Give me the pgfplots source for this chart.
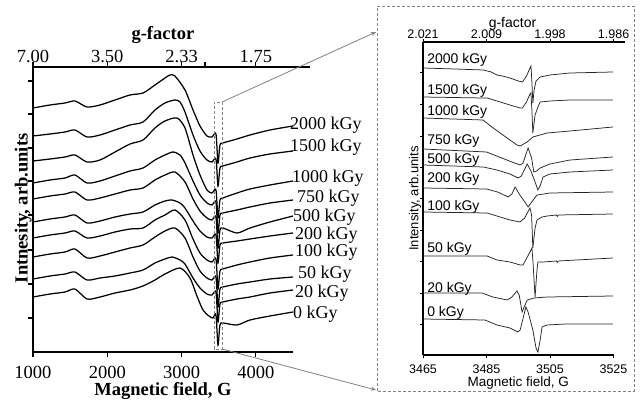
\documentclass[border=0pt]{standalone}
\usepackage{pgfplots}
\pgfplotsset{compat=1.18}
\usepackage{fontspec}
\setmainfont{Liberation Serif}
\newfontfamily\arial{Liberation Sans}
\usetikzlibrary{arrows.meta}

\pgfplotsset{
  /pgf/number format/assume math mode=true,
  spec/.style={black, line width=1.25pt, smooth, tension=0.45},
  zoomspec/.style={black!85, line width=0.75pt},
}
\tikzset{
  lab/.style={anchor=base west, inner sep=0pt, font=\fontsize{18}{20}\selectfont},
  zlab/.style={anchor=base west, inner sep=0pt, font=\arial\fontsize{14}{16}\selectfont},
  frame/.style={black!50, line width=0.8pt, dash pattern=on 3pt off 2pt},
}

\begin{document}
\begin{tikzpicture}
\path[use as bounding box] (0pt,0pt) rectangle (640pt,399pt);

% ---------------- left panel: full field sweep ----------------
\begin{axis}[
  scale only axis, width=260pt, height=285pt,
  at={(33pt,47pt)}, anchor=south west,
  xmin=1000, xmax=4500, ymin=48, ymax=333,
  axis x line*=bottom, axis y line*=left,
  xtick={1000,2000,3000,4000}, xticklabels={1000,2000,3000,4000},
  ytick={82,116,150,185,219,252,286,319}, yticklabels={},
  tick align=outside, major tick length=4.5pt,
  every tick/.style={black, line width=1.1pt},
  axis line style={line width=1.4pt},
  tick label style={font=\fontsize{18.5}{20}\selectfont},
  xticklabel style={yshift=-6pt},
  xlabel={\textbf{Magnetic field, G}},
  xlabel style={font=\fontsize{18.5}{20}\selectfont, at={(axis description cs:0.5,0)}, anchor=center, yshift=-39pt},
  ylabel={\textbf{Intnesity, arb.units}},
  ylabel style={font=\fontsize{18.5}{20}\selectfont, at={(axis description cs:-0.038,0.504)}, anchor=center},
  clip=false,
]
% 2000 kGy
\addplot[spec] table {
x y
1000 292
1229 295
1431 297
1565 299
1727 293
1902 295
2104 300
2306 305
2481 307
2642 315
2777 322
2844 325
2911 324
3046 310
3154 290
3248 274
3342 264
3409 263
3463 266
3490 237
3517 255
3557 257
3746 261
3921 265
4190 270
4500 274
};
% 1500 kGy
\addplot[spec] table {
x y
1000 264
1229 266
1431 268
1565 270
1727 263
1902 265
2104 270
2306 275
2481 278
2642 290
2777 297
2911 300
2979 298
3046 288
3154 265
3248 249
3342 240
3409 238
3463 241
3490 214
3517 232
3557 234
3746 238
3921 242
4190 246
4500 249
};
% 1000 kGy
\addplot[spec] table {
x y
1000 239
1229 241
1431 243
1565 245
1727 238
1902 240
2104 248
2306 256
2481 260
2642 272
2777 279
2938 282
3046 272
3154 245
3248 225
3342 210
3409 207
3463 210
3490 182
3517 200
3557 202
3746 207
3921 211
4190 215
4500 219
};
% 750 kGy
\addplot[spec] table {
x y
1000 217
1229 220
1431 222
1565 225
1727 217
1902 219
2104 224
2306 229
2481 232
2642 240
2777 245
2884 248
2979 245
3046 237
3154 219
3248 205
3342 197
3409 195
3463 198
3490 167
3517 185
3557 187
3746 190
3921 193
4190 197
4500 200
};
% 500 kGy
\addplot[spec] table {
x y
1000 201
1229 204
1431 206
1565 208
1727 200
1902 202
2104 206
2306 210
2481 212
2642 220
2777 225
2911 228
3046 218
3154 201
3248 189
3342 182
3409 180
3463 183
3490 152
3517 170
3557 172
3746 167
3921 172
4190 178
4500 184
};
% 200 kGy
\addplot[spec] table {
x y
1000 178
1229 181
1431 183
1565 185
1727 177
1902 179
2104 183
2306 186
2481 188
2642 195
2777 199
2871 200
2979 197
3046 192
3154 179
3248 169
3342 163
3409 162
3463 165
3490 137
3517 155
3557 157
3746 159
3921 161
4190 164
4500 167
};
% 100 kGy
\addplot[spec] table {
x y
1000 162
1229 165
1431 167
1565 169
1727 162
1902 164
2104 168
2306 171
2481 172
2642 180
2777 185
2911 190
3046 180
3154 161
3248 147
3342 140
3409 138
3463 141
3490 111
3517 129
3557 131
3746 135
3921 138
4190 142
4500 145
};
% 50 kGy
\addplot[spec] table {
x y
1000 143
1229 146
1431 148
1565 151
1727 142
1902 144
2104 148
2306 152
2481 155
2642 163
2777 169
2911 172
3046 162
3154 143
3248 129
3342 122
3409 120
3463 123
3490 93
3517 111
3557 113
3746 116
3921 118
4190 121
4500 123
};
% 20 kGy
\addplot[spec] table {
x y
1000 121
1229 124
1431 126
1565 128
1727 120
1902 122
2104 124
2306 127
2481 130
2642 137
2777 141
2871 143
2979 140
3046 136
3154 122
3248 112
3342 106
3409 105
3463 108
3490 78
3517 96
3557 98
3746 101
3921 103
4190 107
4500 110
};
% 0 kGy
\addplot[spec] table {
x y
1000 103
1229 106
1431 108
1565 111
1727 101
1902 103
2104 107
2306 110
2481 114
2642 120
2777 126
2979 132
3113 122
3207 104
3288 90
3369 84
3423 82
3463 85
3490 55
3517 75
3557 77
3746 75
3921 80
4190 84
4500 88
};
% dose labels at the curve ends
\node[lab] at (axis cs:4459,270) {2000 kGy};
\node[lab] at (axis cs:4459,248) {1500 kGy};
\node[lab] at (axis cs:4486,217) {1000 kGy};
\node[lab] at (axis cs:4553,197) {750 kGy};
\node[lab] at (axis cs:4500,178) {500 kGy};
\node[lab] at (axis cs:4527,160) {200 kGy};
\node[lab] at (axis cs:4527,143) {100 kGy};
\node[lab] at (axis cs:4567,122) {50 kGy};
\node[lab] at (axis cs:4527,103) {20 kGy};
\node[lab] at (axis cs:4500,82) {0 kGy};
% region shown enlarged on the right
\draw[frame] (axis cs:3436,51) rectangle (axis cs:3544,298);
\coordinate (zt) at (axis cs:3544,298);
\coordinate (zb) at (axis cs:3544,51);
\end{axis}

% g-factor scale for the left panel
\begin{axis}[
  scale only axis, width=277pt, height=285pt,
  at={(33pt,47pt)}, anchor=south west,
  xmin=1000, xmax=4728, ymin=0, ymax=1,
  axis x line*=top, axis y line=none,
  xticklabel pos=upper,
  xtick={1000,2000,3000,4000}, xticklabels={7.00,3.50,2.33,1.75},
  extra x ticks={3315}, extra x tick labels={},
  tick align=outside, major tick length=4.5pt,
  every tick/.style={black, line width=1.1pt},
  axis line style={line width=1.4pt},
  tick label style={font=\fontsize{18.5}{20}\selectfont},
  xticklabel style={yshift=-4pt},
  xlabel={\textbf{g-factor}},
  xlabel style={font=\fontsize{18.5}{20}\selectfont, at={(axis description cs:0.469,1)}, anchor=center, yshift=32pt},
]
\end{axis}

% ---------------- right panel: central line ----------------
\begin{axis}[
  scale only axis, width=190.5pt, height=313pt,
  at={(423pt,44pt)}, anchor=south west,
  xmin=3465, xmax=3525, ymin=45, ymax=358,
  axis x line*=bottom, axis y line*=left,
  xtick={3465,3485,3505,3525}, xticklabels={3465,3485,3505,3525},
  ytick={76,107,139,170,202,233,264,296,328}, yticklabels={},
  tick align=outside, major tick length=3pt,
  every tick/.style={black, line width=0.9pt},
  axis line style={line width=1.1pt},
  tick label style={font=\arial\fontsize{12.5}{14}\selectfont},
  xticklabel style={yshift=-3pt},
  xlabel={Magnetic field, G},
  xlabel style={font=\arial\fontsize{13.5}{15}\selectfont, at={(axis description cs:0.5,0)}, anchor=center, yshift=-28pt},
  ylabel={Intensity, arb.units},
  ylabel style={font=\arial\fontsize{13}{15}\selectfont, at={(axis description cs:-0.042,0.5)}, anchor=center},
  clip=false,
]
% 2000 kGy
\addplot[zoomspec] table {
x y
3465.0 332
3475.0 331
3484.0 330
3486.5 328
3488.3 325
3490.0 324
3492.4 322
3495.0 319
3496.3 318
3497.6 324
3498.7 332
3499.0 334
3499.3 318
3499.6 297
3500.0 310
3500.6 319
3501.9 323
3505.0 325
3511.3 327
3524.8 328
};
% 1500 kGy
\addplot[zoomspec] table {
x y
3465.0 303
3484.0 302
3485.2 302
3488.3 299
3492.4 295
3495.6 292
3496.3 292
3497.6 298
3498.7 306
3499.0 307
3499.3 290
3499.6 267
3500.3 285
3501.2 293
3501.9 298
3505.0 299
3511.3 300
3524.8 300
};
% 1000 kGy
\addplot[zoomspec] table {
x y
3465.0 282
3483.9 280
3486.7 273
3489.3 267
3492.4 260
3494.6 255
3495.6 254
3497.8 258
3499.6 263
3504.1 267
3511.3 269
3524.8 273
};
% 750 kGy
\addplot[zoomspec] table {
x y
3465.0 251
3485.0 248
3489.0 243
3493.0 238
3495.6 235
3496.5 237
3498.1 252
3499.2 242
3499.9 228
3500.8 229
3501.9 232
3505.0 236
3511.3 240
3524.8 243
};
% 500 kGy
\addplot[zoomspec] table {
x y
3465.0 235
3484.0 233
3488.3 230
3492.4 226
3494.9 222
3496.0 224
3497.8 236
3499.0 229
3500.3 218
3501.2 210
3502.0 215
3502.8 223
3505.0 226
3511.3 228
3524.8 230
};
% 200 kGy
\addplot[zoomspec] table {
x y
3465.0 212
3485.0 211
3488.5 208
3491.8 203
3493.0 206
3494.0 213
3495.5 205
3497.3 197
3498.1 193
3499.0 197
3500.9 205
3505.0 207
3524.8 208
};
% 100 kGy
\addplot[zoomspec] table {
x y
3465.0 188
3485.2 187
3489.3 183
3492.4 180
3495.6 178
3497.0 182
3498.7 192
3499.2 185
3499.6 152
3500.3 172
3500.9 180
3502.5 183
3504.1 184
3507.0 185
3507.3 183.5
3507.6 185
3524.8 186
};
% 50 kGy
\addplot[zoomspec] table {
x y
3465.0 144
3485.2 144
3488.3 140
3492.4 138
3495.6 135
3496.5 135
3498.7 148
3499.3 152
3499.6 140
3500.3 103
3500.9 130
3501.2 138
3502.8 138
3507.0 139
3507.3 137.5
3507.6 139
3524.8 142
};
% 20 kGy
\addplot[zoomspec] table {
x y
3465.0 107
3483.6 107
3487.0 103
3490.0 101
3491.5 100
3493.0 103
3494.6 109
3495.3 105
3496.2 88
3497.0 94
3497.8 100
3500.0 102
3504.1 103
3524.8 104
};
% 0 kGy
\addplot[zoomspec] table {
x y
3465.0 81
3484.5 80
3488.3 75
3492.4 72
3494.9 68
3495.6 70
3497.4 93
3498.1 88
3499.6 70
3500.6 52
3501.2 48
3501.9 60
3502.5 73
3504.1 75
3510.0 76
3524.8 76
};
\node[zlab] at (axis cs:3466.3,336) {2000 kGy};
\node[zlab] at (axis cs:3466.3,305) {1500 kGy};
\node[zlab] at (axis cs:3466.3,284) {1000 kGy};
\node[zlab] at (axis cs:3466.3,255) {750 kGy};
\node[zlab] at (axis cs:3466.3,236) {500 kGy};
\node[zlab] at (axis cs:3466.3,217) {200 kGy};
\node[zlab] at (axis cs:3466.3,189) {100 kGy};
\node[zlab] at (axis cs:3466.3,147) {50 kGy};
\node[zlab] at (axis cs:3466.3,108) {20 kGy};
\node[zlab] at (axis cs:3466.3,84) {0 kGy};
\end{axis}

% g-factor scale for the right panel
\begin{axis}[
  scale only axis, width=202pt, height=313pt,
  at={(423pt,44pt)}, anchor=south west,
  xmin=3465, xmax=3528.6, ymin=0, ymax=1,
  axis x line*=top, axis y line=none,
  xticklabel pos=upper,
  xtick={3465,3485,3505,3525}, xticklabels={2.021,2.009,1.998,1.986},
  tick align=outside, major tick length=3pt,
  every tick/.style={black, line width=0.9pt},
  axis line style={line width=1.1pt},
  tick label style={font=\arial\fontsize{12.5}{14}\selectfont},
  xticklabel style={yshift=-3pt},
  xlabel={g-factor},
  xlabel style={font=\arial\fontsize{14}{16}\selectfont, at={(axis description cs:0.443,1)}, anchor=center, yshift=18pt},
]
\end{axis}

% frame of the enlarged view and its connectors
\draw[frame] (377pt,8pt) rectangle (634pt,393pt);
\draw[black!50, line width=0.8pt, -{Stealth[length=5pt,width=4pt]}] (zt) -- (376pt,367pt);
\draw[black!50, line width=0.8pt, -{Stealth[length=5pt,width=4pt]}] (zb) -- (376pt,9pt);
\end{tikzpicture}
\end{document}
